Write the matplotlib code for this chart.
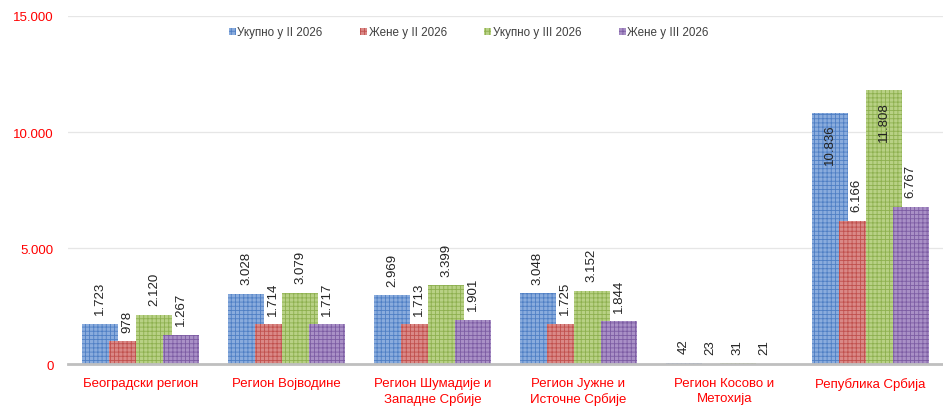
import matplotlib

matplotlib.use("Agg")
import matplotlib.pyplot as plt
import numpy as np

plt.rcParams["font.family"] = ["Liberation Sans", "DejaVu Sans"]
plt.rcParams["hatch.linewidth"] = 0.6

regions = ["Београдски регион", "Регион Војводине", "Регион Шумадије и\nЗападне Србије",
           "Регион Јужне и\nИсточне Србије", "Регион Косово и\nМетохија", "Република Србија"]
series = ["Укупно у II 2026", "Жене у II 2026", "Укупно у III 2026", "Жене у III 2026"]
total_feb = [1723, 3028, 2969, 3048, 42, 10836]
women_feb = [978, 1714, 1713, 1725, 23, 6166]
total_mar = [2120, 3079, 3399, 3152, 31, 11808]
women_mar = [1267, 1717, 1901, 1844, 21, 6767]

FACE = ["#8aacdd", "#da8987", "#b8d185", "#a990c6"]
LINE = ["#4f7fc4", "#c0504d", "#8db04f", "#7c5ca3"]


def fmt(v):
    return f"{v:,}".replace(",", ".")


fig = plt.figure(figsize=(9.43, 4.14), dpi=100)
ax = fig.add_axes([0.072, 0.118, 0.928, 0.841])

x = np.arange(len(regions))
step = 0.185
w = 0.247
data = [total_feb, women_feb, total_mar, women_mar]
handles = []
for k, vals in enumerate(data):
    pos = x + (k - 1.5) * step
    bars = ax.bar(pos, vals, w, facecolor=FACE[k], edgecolor=LINE[k], lw=0,
                  hatch="++++", label=series[k], zorder=2)
    handles.append(bars)
    for p, v in zip(pos, vals):
        if v > 10000:
            ax.annotate(fmt(v), xy=(p, v), xytext=(0, -8), textcoords="offset points",
                        rotation=90, ha="center", va="top", fontsize=9.5, color="#222")
        else:
            ax.annotate(fmt(v), xy=(p, v), xytext=(0, 7), textcoords="offset points",
                        rotation=90, ha="center", va="bottom", fontsize=9.5, color="#222")

ax.set_xlim(-0.5, len(regions) - 0.5)
ax.set_ylim(0, 15000)
ax.set_yticks([0, 5000, 10000, 15000])
ax.set_yticklabels([fmt(v) for v in [0, 5000, 10000, 15000]], color="#ff0000", fontsize=9.5)
ax.set_xticks(x)
ax.set_xticklabels(regions, color="#ff0000", fontsize=9.5, linespacing=1.35)
ax.tick_params(axis="both", length=0)
ax.tick_params(axis="x", pad=9)
ax.tick_params(axis="y", pad=10)
ax.grid(axis="y", color="#e6e6e6", lw=0.9, zorder=0)
for s in ["top", "right", "left"]:
    ax.spines[s].set_visible(False)
ax.spines["bottom"].set_color("#bfbfbf")
ax.spines["bottom"].set_linewidth(2)
ax.spines["bottom"].set_zorder(3)

ax.legend(handles=handles, loc="upper center", bbox_to_anchor=(0.458, 1.0), ncol=4,
          frameon=False, fontsize=8.4, handlelength=0.6, handleheight=0.6,
          handletextpad=0.15, columnspacing=3.2, labelcolor="#404040")

fig.savefig("out.png", dpi=100)
